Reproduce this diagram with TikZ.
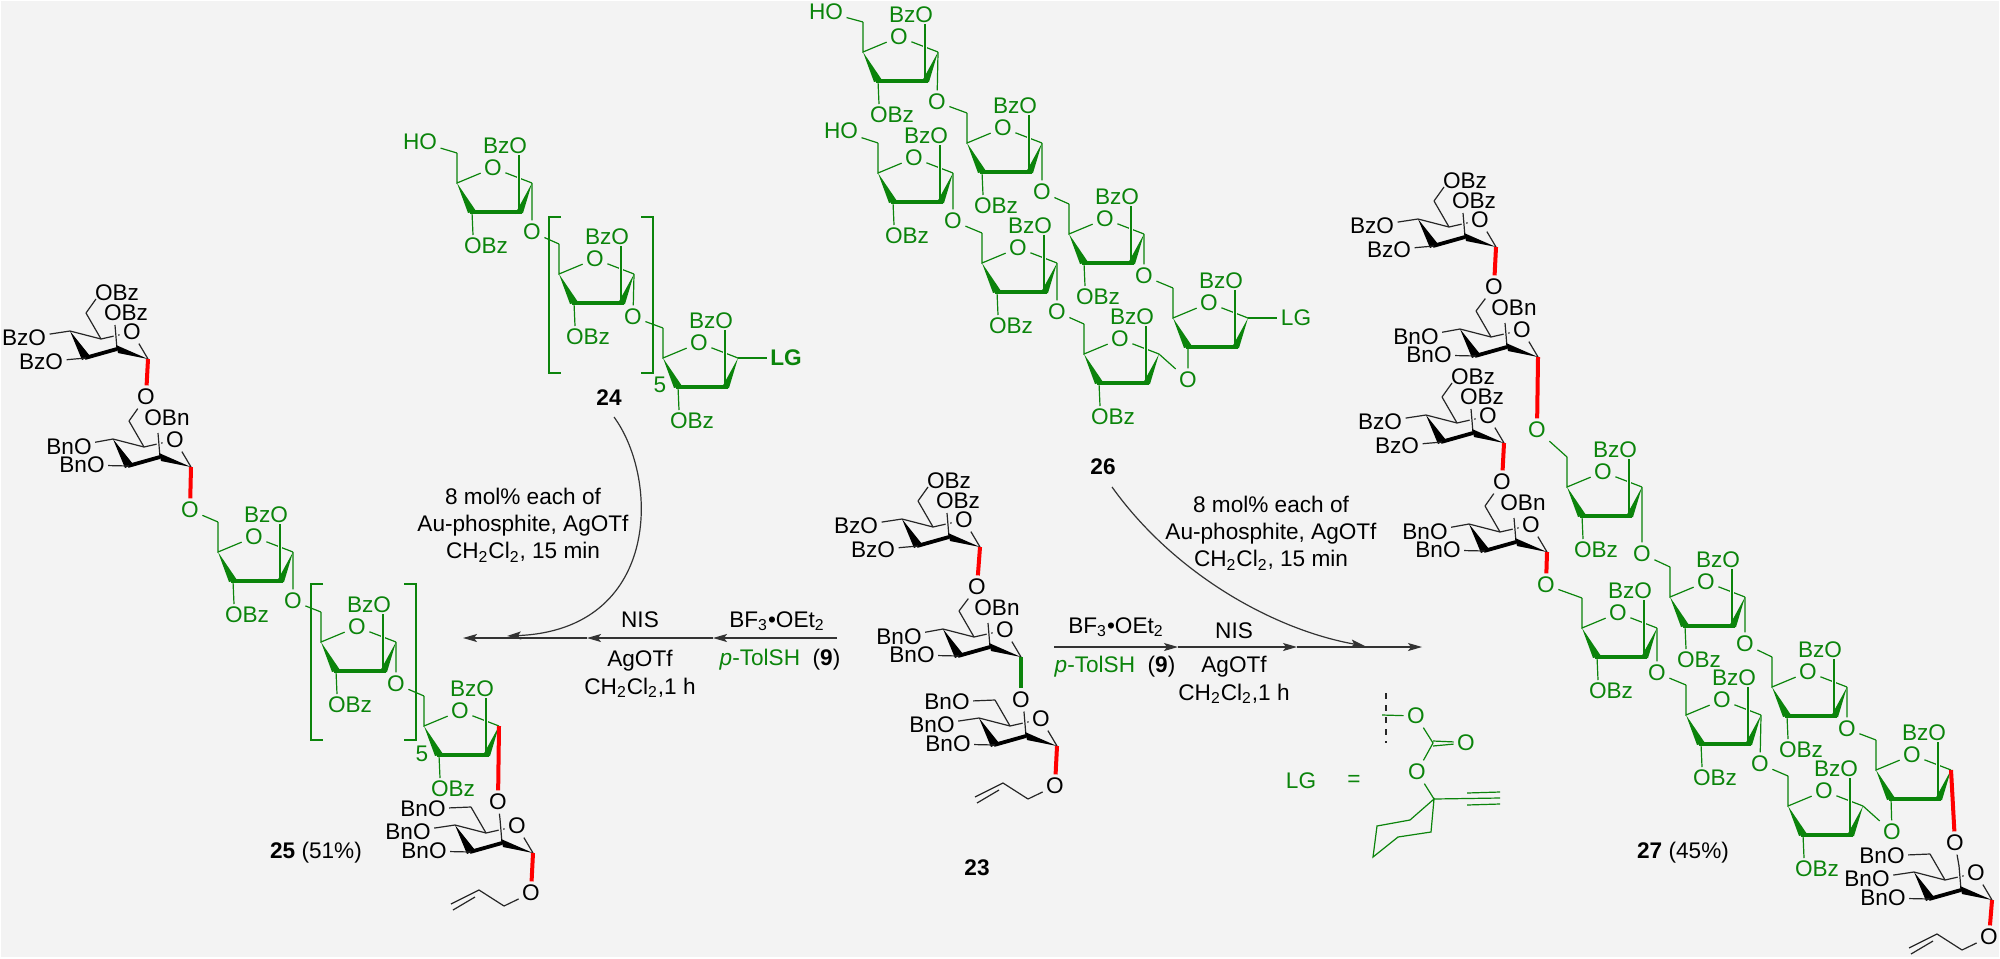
\documentclass[tikz,border=0pt]{standalone}
\usepackage{fontspec}
\setmainfont{Liberation Sans}
\usetikzlibrary{arrows.meta}
\usetikzlibrary{positioning}
\definecolor{bggray}{HTML}{F3F3F3}
\definecolor{chemgreen}{HTML}{0B840B}
\tikzstyle{txt} = [font=\fontsize{11.3}{13.7}\selectfont, inner sep=0pt, align=center]
\tikzstyle{atomk} = [txt, inner sep=1.6pt, text=black]
\tikzstyle{atomg} = [txt, inner sep=1.6pt, text=chemgreen]
\tikzstyle{tight} = [txt, inner sep=0.1pt, text=black]
\tikzstyle{bondk} = [line width=0.6pt, draw=black!85]
\tikzstyle{bondg} = [line width=0.6pt, draw=chemgreen]
\tikzstyle{bondr} = [line width=2pt, draw=red]
\tikzstyle{bondgb} = [line width=2pt, draw=chemgreen]
\tikzstyle{halo} = [line width=2.2pt, draw=bggray]
\tikzstyle{flow} = [line width=0.6pt, draw=black!80, -{Stealth[length=7pt,width=4pt,inset=1.5pt]}]
\newcommand{\furanring}{
  \coordinate (-C4) at (0,0);
  \coordinate (-C5) at (0,-30);
  \coordinate (-C1) at (75,0);
  \coordinate (-C2) at (62,29);
  \coordinate (-C3) at (15,29);
  \coordinate (-up) at (62,-28);
  \node[atomg] (-O) at (36,-15) {O};
  \node[atomg] (-BzO) at (48,-37) {BzO};
  \draw[bondg] (-C5) -- (-C4) -- (-O) -- (-C1);
  \draw[halo] (-C2) -- (-up);
  \draw[bondg] (-C2) -- (-up);
  \fill[chemgreen] (-C4) -- (11,30) -- (19,28) -- cycle;
  \fill[chemgreen] (-C1) -- (58,31) -- (66,30) -- cycle;
  \draw[line width=2.2pt, draw=chemgreen] (13,29) -- (65,29);
}
\newcommand{\pyranring}{
  \coordinate (-C1) at (0,0);
  \coordinate (-C2) at (-31,-10);
  \coordinate (-C3) at (-62,-1);
  \coordinate (-C4) at (-78,-28);
  \coordinate (-C5) at (-47,-20);
  \coordinate (-C6) at (-62,-46);
  \coordinate (-up) at (-33,-34);
  \node[atomk] (-O) at (-16,-27) {O};
  \draw[bondk] (-C6) -- (-C5);
  \draw[bondk] (-C4) -- (-C5) -- (-O) -- (-C1);
  \draw[halo] (-C2) -- (-up);
  \draw[bondk] (-C2) -- (-up);
  \fill[black] (-C4) -- (-66,1) -- (-58,-3) -- cycle;
  \fill[black] (-C1) -- (-32,-14) -- (-30,-6) -- cycle;
  \draw[line width=1.9pt, draw=black] (-63,-1) -- (-31,-10);
}
\tikzset{
  furan/.pic={\furanring},
  furanbz/.pic={
    \furanring
    \node[atomg] (-OBz) at (29,63) {OBz};
    \draw[bondg] (-C3) -- (16,52);
  },
  manbz/.pic={
    \pyranring
    \node[atomk] (-O6) at (-31,-66) {OBz};
    \node[atomk] (-O2) at (-22,-46) {OBz};
    \node[atomk] (-O4) at (-124,-21) {BzO};
    \node[atomk] (-O3) at (-107,3) {BzO};
    \draw[bondk] (-C6) -- (-52,-60);
    \draw[bondk] (-C4) -- (-O4);
    \draw[bondk] (-C3) -- (-O3);
  },
  manbn/.pic={
    \pyranring
    \node[atomk] (-O2) at (-24,-49) {OBn};
    \node[tight] (-O4) at (-122,-20) {BnO};
    \node[tight] (-O3) at (-109,-2) {BnO};
    \draw[bondk, shorten >=1.5pt] (-C4) -- (-O4);
    \draw[bondk, shorten >=1.5pt] (-C3) -- (-O3);
  },
  manre/.pic={
    \pyranring
    \node[atomk] (-O6) at (-110,-44) {BnO};
    \node[atomk] (-O4) at (-125,-21) {BnO};
    \node[atomk] (-O3) at (-109,-2) {BnO};
    \draw[bondk] (-C6) -- (-O6);
    \draw[bondk] (-C4) -- (-O4);
    \draw[bondk] (-C3) -- (-O3);
  },
  allyl/.pic={
    \coordinate (-C1) at (-27,13);
    \coordinate (-C2) at (-52,-3);
    \coordinate (-C3) at (-80,11);
    \draw[bondk] (-C1) -- (-C2) -- (-C3);
    \draw[bondk] (-56,4) -- (-78,17);
  }
}
\begin{document}
\begin{tikzpicture}[x=0.5pt,y=-0.5pt]
\useasboundingbox (0,0) rectangle (2000,958);
\fill[bggray] (1,1) rectangle (1999,957);

\pic (p1) at (148,359) {manbz};
\pic (p2) at (191,467) {manbn};
\pic (p3) at (533,853) {manre};
\node[atomk] (po1) at (146,397) {O};
\node[atomk] (po2) at (498,802) {O};
\node[atomk] (po3) at (531,893) {O};
\node[atomg] (go1) at (190,510) {O};
\pic (pa) at (531,893) {allyl};
\foreach \n/\x/\y in {f1/218/552,f2/321/642,f3/424/726}
  \pic (\n) at (\x,\y) {furanbz};
\foreach \n/\p/\q/\x/\y in {fo1/f1/f2/293/601,fo2/f2/f3/396/684} {
  \node[atomg] (\n) at (\x,\y) {O};
  \draw[bondg] (\p-C1) -- (\n) -- (\q-C5);
}
\draw[bondr] (p1-C1) -- (po1);
\draw[bondk] (po1) -- (p2-C6);
\draw[bondr] (p2-C1) -- (go1);
\draw[bondg] (go1) -- (f1-C5);
\draw[bondr] (f3-C1) -- (po2);
\draw[bondk] (p3-up) -- (po2);
\draw[bondr] (p3-C1) -- (po3);
\draw[bondk] (po3) -- (pa-C1);
\draw[bondg] (323,584) -- (311,584) -- (311,740) -- (323,740);
\draw[bondg] (404,584) -- (416,584) -- (416,740) -- (404,740);
\node[atomg] (n5a) at (422,754) {5};
\node[txt] (c25) at (316,853) {\textbf{25} (51\%)};

\foreach \n/\x/\y in {b1/457/183,b2/559/274,b3/663/358}
  \pic (\n) at (\x,\y) {furanbz};
\foreach \n/\p/\q/\x/\y in {bo1/b1/b2/532/232,bo2/b2/b3/633/317} {
  \node[atomg] (\n) at (\x,\y) {O};
  \draw[bondg] (\p-C1) -- (\n) -- (\q-C5);
}
\node[atomg] (bho) at (420,142) {HO};
\draw[bondg] (bho) -- (b1-C5);
\node[atomg] (blg) at (786,358) {\textbf{LG}};
\draw[bondg] (b3-C1) -- (blg);
\draw[bondg] (561,217) -- (549,217) -- (549,373) -- (561,373);
\draw[bondg] (641,217) -- (653,217) -- (653,373) -- (641,373);
\node[atomg] (n5b) at (660,385) {5};
\node[txt] (c24) at (609,398) {\textbf{24}};

\foreach \n/\x/\y in {a/863/52,b/967/143,c/1069/234,e/878/173,f/982/263,g/1084/354}
  \pic (\n) at (\x,\y) {furanbz};
\pic (d) at (1173,318) {furan};
\foreach \n/\p/\q/\x/\y in {ao/a/b/937/102,bo/b/c/1042/192,co/c/d/1144/276,eo/e/f/953/221,fo/f/g/1057/312} {
  \node[atomg] (\n) at (\x,\y) {O};
  \draw[bondg] (\p-C1) -- (\n) -- (\q-C5);
}
\node[atomg] (aho) at (826,12) {HO};
\draw[bondg] (aho) -- (a-C5);
\node[atomg] (eho) at (841,131) {HO};
\draw[bondg] (eho) -- (e-C5);
\node[atomg] (go) at (1188,380) {O};
\draw[bondg] (g-C1) -- (go) -- (d-C3);
\node[atomg] (dlg) at (1296,318) {LG};
\draw[bondg] (d-C1) -- (dlg);
\node[txt] (c26) at (1103,467) {\textbf{26}};

\pic (r1) at (980,547) {manbz};
\pic (r2) at (1021,657) {manbn};
\pic (r3) at (1057,746) {manre};
\node[atomk] (ro1) at (977,587) {O};
\node[atomk] (ro2) at (1021,700) {O};
\node[atomk] (ro3) at (1055,786) {O};
\pic (ra) at (1055,786) {allyl};
\draw[bondr] (r1-C1) -- (ro1);
\draw[bondk] (ro1) -- (r2-C6);
\draw[bondgb] (r2-C1) -- (ro2);
\draw[bondk] (r3-up) -- (ro2);
\draw[bondr] (r3-C1) -- (ro3);
\draw[bondk] (ro3) -- (ra-C1);
\node[txt] (c23) at (977,868) {\textbf{23}};

\pic (q1) at (1496,247) {manbz};
\pic (q2) at (1538,357) {manbn};
\pic (q3) at (1504,443) {manbz};
\pic (q4) at (1547,552) {manbn};
\pic (q5) at (1992,900) {manre};
\node[atomk] (qo1) at (1494,287) {O};
\node[atomk] (qo3) at (1502,482) {O};
\node[atomg] (qg2) at (1537,430) {O};
\node[atomg] (qg4) at (1546,585) {O};
\node[atomk] (qo5) at (1955,843) {O};
\node[atomk] (qo6) at (1989,937) {O};
\pic (qa) at (1989,937) {allyl};
\foreach \n/\x/\y in {h1/1567/487,h2/1670/597,h3/1772/687,l1/1582/628,l2/1686/715,l3/1788/806}
  \pic (\n) at (\x,\y) {furanbz};
\pic (h4) at (1876,770) {furan};
\foreach \n/\p/\q/\x/\y in {ho1/h1/h2/1642/554,ho2/h2/h3/1745/644,ho3/h3/h4/1847/729,lo1/l1/l2/1657/673,lo2/l2/l3/1760/764} {
  \node[atomg] (\n) at (\x,\y) {O};
  \draw[bondg] (\p-C1) -- (\n) -- (\q-C5);
}
\node[atomg] (lo3) at (1892,832) {O};
\draw[bondg] (l3-C1) -- (lo3) -- (h4-C3);
\draw[bondr] (q1-C1) -- (qo1);
\draw[bondk] (qo1) -- (q2-C6);
\draw[bondr] (q2-C1) -- (qg2);
\draw[bondg] (qg2) -- (h1-C5);
\draw[bondr] (q3-C1) -- (qo3);
\draw[bondk] (qo3) -- (q4-C6);
\draw[bondr] (q4-C1) -- (qg4);
\draw[bondg] (qg4) -- (l1-C5);
\draw[bondr] (h4-C1) -- (qo5);
\draw[bondk] (q5-up) -- (qo5);
\draw[bondr] (q5-C1) -- (qo6);
\draw[bondk] (qo6) -- (qa-C1);
\node[txt] (c27) at (1683,853) {\textbf{27} (45\%)};

\coordinate (la) at (837,638);
\coordinate (lb) at (713,638);
\coordinate (lc) at (587,638);
\coordinate (ld) at (463,638);
\draw[flow] (la) -- (lb);
\draw[flow] (lb) -- (lc);
\draw[flow] (lc) -- (ld);
\coordinate (ca) at (614,417);
\coordinate (cb) at (507,636);
\draw[flow] (ca) .. controls (660,480) and (660,630) .. (cb);
\node[txt] (lbf) at (777,621) {BF\textsubscript{3}•OEt\textsubscript{2}};
\node[txt] (ltol) at (780,660) {\textcolor{chemgreen}{\textit{p}-TolSH}~ (\textbf{9})};
\node[txt] (lnis) at (640,620) {NIS};
\node[txt] (lag) at (640,674) {AgOTf\\CH\textsubscript{2}Cl\textsubscript{2},1 h};
\node[txt] (lcat) at (523,525) {8 mol\% each of\\Au-phosphite, AgOTf\\CH\textsubscript{2}Cl\textsubscript{2}, 15 min};

\coordinate (ra0) at (1054,647);
\coordinate (ra1) at (1178,647);
\coordinate (ra2) at (1297,647);
\coordinate (ra3) at (1422,647);
\draw[flow] (ra0) -- (ra1);
\draw[flow] (ra1) -- (ra2);
\draw[flow] (ra2) -- (ra3);
\coordinate (da) at (1112,487);
\coordinate (db) at (1365,646);
\draw[flow] (da) .. controls (1175,575) and (1275,630) .. (db);
\node[txt] (rbf) at (1116,627) {BF\textsubscript{3}•OEt\textsubscript{2}};
\node[txt] (rtol) at (1115,667) {\textcolor{chemgreen}{\textit{p}-TolSH}~ (\textbf{9})};
\node[txt] (rnis) at (1234,631) {NIS};
\node[txt] (rag) at (1234,680) {AgOTf\\CH\textsubscript{2}Cl\textsubscript{2},1 h};
\node[txt] (rcat) at (1271,533) {8 mol\% each of\\Au-phosphite, AgOTf\\CH\textsubscript{2}Cl\textsubscript{2}, 15 min};

\node[atomg] (lgt) at (1301,781) {LG};
\node[atomg] (lgeq) at (1354,781) {=};
\node[atomg] (lgo1) at (1416,716) {O};
\node[atomg] (lgo2) at (1466,743) {O};
\node[atomg] (lgo3) at (1417,772) {O};
\coordinate (lgc) at (1433,743);
\coordinate (lgq) at (1434,799);
\coordinate (lgz) at (1382,715);
\draw[bondk, dashed] (1386,693) -- (1386,743);
\draw[bondg] (lgz) -- (lgo1) -- (lgc) -- (lgo3) -- (lgq);
\draw[bondg] (1433,741) -- (lgo2.175);
\draw[bondg] (1433,746) -- (lgo2.185);
\draw[bondg] (lgq) -- (1500,798);
\draw[bondg] (1467,793) -- (1500,792);
\draw[bondg] (1467,805) -- (1500,804);
\draw[bondg] (lgq) -- (1410,820) -- (1377,826) -- (1373,857) -- (1398,837) -- (1431,832) -- cycle;
\end{tikzpicture}
\end{document}
